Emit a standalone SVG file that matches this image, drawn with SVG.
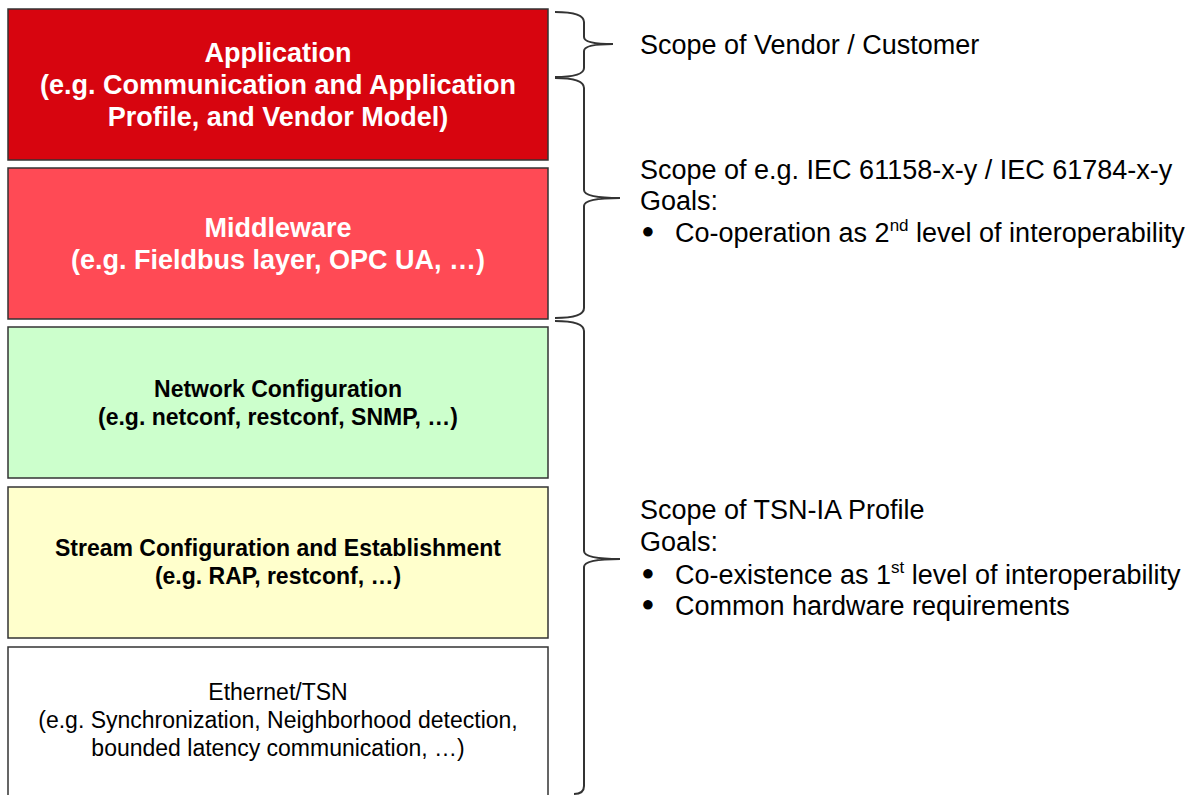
<svg xmlns="http://www.w3.org/2000/svg" width="1189" height="795" viewBox="0 0 1189 795">
<style>
.box{stroke:#333;stroke-width:1.5}
.tw{font-family:"Liberation Sans",Arial,sans-serif;font-weight:bold;fill:#fff;font-size:27px;text-anchor:middle}
.tb{font-family:"Liberation Sans",Arial,sans-serif;font-weight:bold;fill:#000;font-size:23px;text-anchor:middle}
.tn{font-family:"Liberation Sans",Arial,sans-serif;fill:#000;font-size:23px;text-anchor:middle}
.rt{font-family:"Liberation Sans",Arial,sans-serif;fill:#000;font-size:27px}
.bu{font-family:"Liberation Sans","DejaVu Sans",sans-serif;fill:#000;font-size:22px;text-anchor:middle}
.brace{fill:none;stroke:#333;stroke-width:2}
</style>
<rect width="1189" height="795" fill="#fff"/>
<g id="application">
<rect class="box" x="8" y="9" width="540" height="151" fill="#D7050F"/>
<text class="tw" x="278" y="62">Application</text>
<text class="tw" x="278" y="94">(e.g. Communication and Application</text>
<text class="tw" x="278" y="126">Profile, and Vendor Model)</text>
</g>
<g id="middleware">
<rect class="box" x="8" y="168" width="540" height="151" fill="#FF4A55"/>
<text class="tw" x="278" y="237">Middleware</text>
<text class="tw" x="278" y="269">(e.g. Fieldbus layer, OPC UA, …)</text>
</g>
<g id="netconf">
<rect class="box" x="8" y="327" width="540" height="151" fill="#CCFFCC"/>
<text class="tb" x="278" y="397">Network Configuration</text>
<text class="tb" x="278" y="425">(e.g. netconf, restconf, SNMP, …)</text>
</g>
<g id="stream">
<rect class="box" x="8" y="487" width="540" height="151" fill="#FFFFCC"/>
<text class="tb" x="278" y="556">Stream Configuration and Establishment</text>
<text class="tb" x="278" y="584">(e.g. RAP, restconf, …)</text>
</g>
<g id="ethernet">
<rect class="box" x="8" y="647" width="540" height="160" fill="#fff"/>
<text class="tn" x="278" y="700">Ethernet/TSN</text>
<text class="tn" x="278" y="728">(e.g. Synchronization, Neighborhood detection,</text>
<text class="tn" x="278" y="756">bounded latency communication, …)</text>
</g>
<g id="connectors">
<path class="brace" d="M555 12 Q584 12 584 22 L584 37 Q584 44 613 44 Q584 44 584 51 L584 68 Q584 77 555 77"/>
<path class="brace" d="M555 78 Q584 78 584 88 L584 190 Q584 198 620 198 Q584 198 584 206 L584 308 Q584 318 555 318"/>
<path class="brace" d="M555 321 Q584 321 584 331 L584 551 Q584 559 620 559 Q584 559 584 567 L584 786 Q584 794 574 794"/>
</g>
<g id="scope-vendor">
<text class="rt" x="640" y="54">Scope of Vendor / Customer</text>
</g>
<g id="scope-iec">
<text class="rt" x="640" y="179">Scope of e.g. IEC 61158-x-y / IEC 61784-x-y</text>
<text class="rt" x="640" y="210">Goals:</text>
<text class="bu" x="648" y="238">●</text>
<text class="rt" x="675" y="242">Co-operation as 2<tspan font-size="17" dy="-11">nd</tspan><tspan dy="11"> level of interoperability</tspan></text>
</g>
<g id="scope-tsn">
<text class="rt" x="640" y="519">Scope of TSN-IA Profile</text>
<text class="rt" x="640" y="551">Goals:</text>
<text class="bu" x="648" y="580">●</text>
<text class="rt" x="675" y="584">Co-existence as 1<tspan font-size="17" dy="-11">st</tspan><tspan dy="11"> level of interoperability</tspan></text>
<text class="bu" x="648" y="611">●</text>
<text class="rt" x="675" y="615">Common hardware requirements</text>
</g>
</svg>
